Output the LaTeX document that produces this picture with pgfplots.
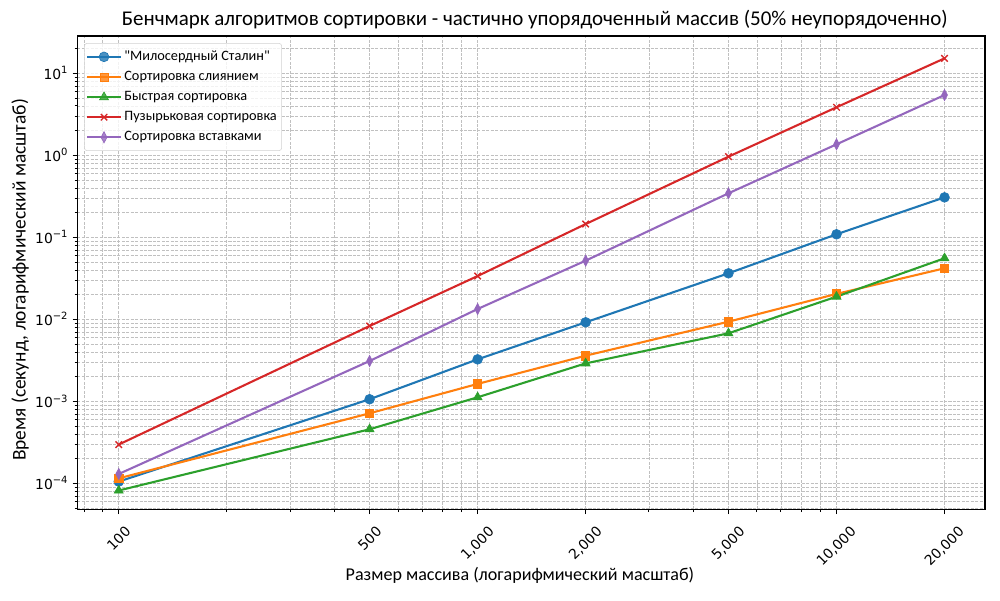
\documentclass[border=0pt]{standalone}
\usepackage{fontspec}
\setmainfont{DejaVu Sans}
\newfontfamily\carlito{Carlito}
\usepackage{pgfplots}
\pgfplotsset{compat=1.18}
\usepackage{pgfplotstable}
\definecolor{c0}{HTML}{1F77B4}
\definecolor{c1}{HTML}{FF7F0E}
\definecolor{c2}{HTML}{2CA02C}
\definecolor{c3}{HTML}{D62728}
\definecolor{c4}{HTML}{9467BD}
\definecolor{gridc}{RGB}{192,192,192}
\newcommand\tp[1]{10\raisebox{0.42em}{\fontsize{7.2pt}{8pt}\selectfont #1}}
\newcommand\rl[1]{\rotatebox{45}{#1}}
\pgfplotstableread{
n stalin merge quick bubble insert
100 1.05e-4 1.15e-4 8.17e-5 2.97e-4 1.30e-4
500 1.06e-3 7.14e-4 4.56e-4 8.28e-3 3.10e-3
1000 3.25e-3 1.63e-3 1.12e-3 0.0337 0.01336
2000 9.19e-3 3.60e-3 2.90e-3 0.145 0.0519
5000 0.0364 9.35e-3 6.75e-3 0.962 0.344
10000 0.1088 0.0204 0.0189 3.85 1.36
20000 0.307 0.0419 0.0555 15.2 5.43
}\data
\begin{document}
\begin{tikzpicture}
\useasboundingbox (0,0) rectangle (720pt,432pt);
\begin{loglogaxis}[
  at={(55.7pt,65.3pt)}, anchor=south west,
  scale only axis, width=653.5pt, height=340.8pt,
  xmin=76.7, xmax=25930, ymin=4.82e-5, ymax=28.5,
  axis line style={line width=0.8pt},
  tick align=outside, tick pos=left,
  major tick length=3.5pt, minor tick length=2pt,
  every major tick/.append style={line width=0.8pt, black},
  every minor tick/.append style={line width=0.6pt, black},
  xtick={100,500,1000,2000,5000,10000,20000},
  xticklabels={\rl{100},\rl{500},\rl{1,000},\rl{2,000},\rl{5,000},\rl{10,000},\rl{20,000}},
  minor xtick={80,90,200,300,400,600,700,800,900,3000,4000,6000,7000,8000,9000},
  xticklabel style={anchor=north, font=\fontsize{10}{12}\selectfont, yshift=-4.5pt},
  ytick={1e-4,1e-3,1e-2,1e-1,1,10},
  yticklabels={\tp{−4},\tp{−3},\tp{−2},\tp{−1},\tp{0},\tp{1}},
  minor ytick={5e-5,6e-5,7e-5,8e-5,9e-5,2e-4,3e-4,4e-4,5e-4,6e-4,7e-4,8e-4,9e-4,2e-3,3e-3,4e-3,5e-3,6e-3,7e-3,8e-3,9e-3,2e-2,3e-2,4e-2,5e-2,6e-2,7e-2,8e-2,9e-2,0.2,0.3,0.4,0.5,0.6,0.7,0.8,0.9,2,3,4,5,6,7,8,9,20},
  yticklabel style={font=\fontsize{10}{12}\selectfont},
  grid=both,
  major grid style={gridc, line width=0.5pt, dash pattern=on 2.2pt off 1pt},
  minor grid style={gridc, line width=0.5pt, dash pattern=on 2.2pt off 1pt},
  title={Бенчмарк алгоритмов сортировки - частично упорядоченный массив (50\% неупорядоченно)},
  title style={font=\carlito\fontsize{15.1}{18}\selectfont, at={(axis description cs:0.504,1.036)}, anchor=center, yshift=-6.5pt},
  xlabel={Размер массива (логарифмический масштаб)},
  xlabel style={font=\carlito\fontsize{13}{16}\selectfont, at={(axis description cs:0.4876,-0.139)}, anchor=center},
  ylabel={Время (секунд, логарифмический масштаб)},
  ylabel style={font=\carlito\fontsize{14}{17}\selectfont, at={(axis description cs:-0.063,0.4845)}, anchor=center},
  legend style={at={(axis description cs:0.0074,0.985)}, anchor=north west,
    font=\carlito\fontsize{10.3}{12}\selectfont, draw=gray!35, rounded corners=2pt,
    fill=white, fill opacity=0.8, text opacity=1, row sep=2.3pt,
    inner xsep=1.5pt, inner ysep=3.5pt},
  legend cell align=left,
  legend image code/.code={\draw[mark repeat=2,mark phase=2] plot coordinates {(0pt,0pt) (11.9pt,0pt) (23.8pt,0pt)};},
  every axis plot/.append style={line width=1.5pt},
]
\addplot[c0, mark=*, mark size=3.5pt, mark options={solid, fill=c0, line width=0.5pt}] table[x=n,y=stalin]{\data};
\addlegendentry{\textquotedbl Милосердный Сталин\textquotedbl}
\addplot[c1, mark=square*, mark size=3pt, mark options={solid, fill=c1, line width=0.5pt}] table[x=n,y=merge]{\data};
\addlegendentry{Сортировка слиянием}
\addplot[c2, mark=triangle*, mark size=3.7pt, mark options={solid, fill=c2, line width=0.5pt}] table[x=n,y=quick]{\data};
\addlegendentry{Быстрая сортировка}
\addplot[c3, mark=x, mark size=3.3pt, mark options={solid, line width=1pt}] table[x=n,y=bubble]{\data};
\addlegendentry{Пузырьковая сортировка}
\addplot[c4, mark=diamond*, mark size=4pt, mark options={solid, fill=c4, line width=0.5pt, xscale=0.7}] table[x=n,y=insert]{\data};
\addlegendentry{Сортировка вставками}
\end{loglogaxis}
\end{tikzpicture}
\end{document}
